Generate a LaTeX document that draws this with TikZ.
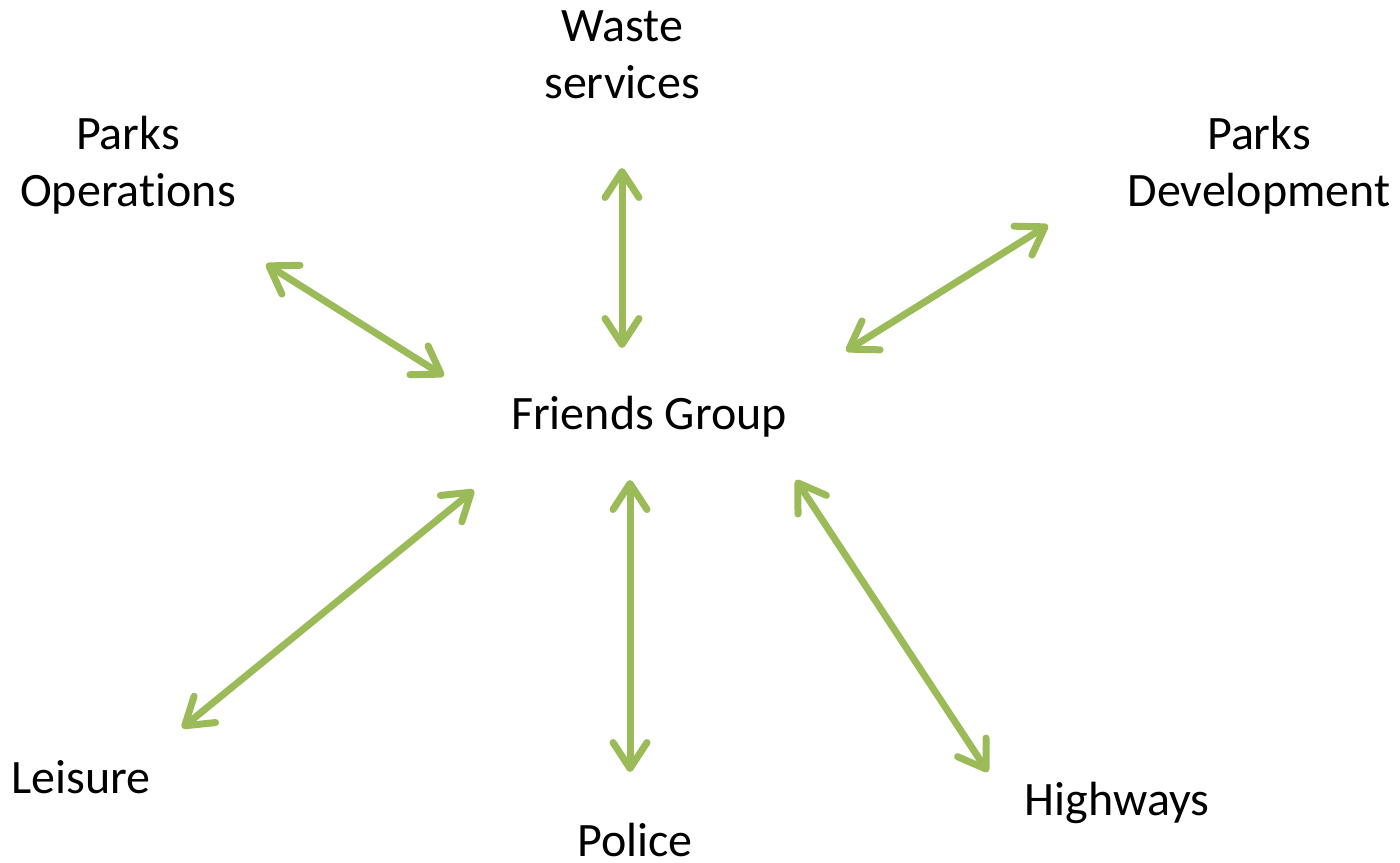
\documentclass[tikz,border=0pt]{standalone}
\usepackage{fontspec}
\setmainfont[Ligatures={NoCommon}]{Carlito}
\usetikzlibrary{arrows.meta}
\definecolor{arrgreen}{HTML}{9BBB59}
\begin{document}
\begin{tikzpicture}[x=1pt,y=-1pt,
  lbl/.style={font=\fontsize{48}{57}\selectfont, align=center, inner sep=0pt},
  link/.style={draw=arrgreen, line width=7pt, line cap=round,
    {Straight Barb[length=26pt,width=34pt,round]}-{Straight Barb[length=26pt,width=34pt,round]}}]
\useasboundingbox (0,0) rectangle (1400,862);
\node[lbl] (waste) at (622,55) {Waste\\services};
\node[lbl] (pops) at (128,165) {Parks\\Operations};
\node[lbl] (pdev) at (1259,165) {Parks\\Development};
\node[lbl] (friends) at (649,417) {Friends Group};
\node[lbl] (leisure) at (81,777) {Leisure};
\node[lbl] (police) at (635,840) {Police};
\node[lbl] (highways) at (1117,803) {Highways};
\coordinate (w1) at (622,168); \coordinate (w2) at (622,348);
\coordinate (o1) at (266,264); \coordinate (o2) at (444,376);
\coordinate (d1) at (1048,225); \coordinate (d2) at (846,351);
\coordinate (l1) at (182,728); \coordinate (l2) at (474,490);
\coordinate (p1) at (630,480); \coordinate (p2) at (630,772);
\coordinate (h1) at (796,480); \coordinate (h2) at (988,772);
\draw[link] (w1) -- (w2);
\draw[link] (o1) -- (o2);
\draw[link] (d1) -- (d2);
\draw[link] (l1) -- (l2);
\draw[link] (p1) -- (p2);
\draw[link] (h1) -- (h2);
\end{tikzpicture}
\end{document}
